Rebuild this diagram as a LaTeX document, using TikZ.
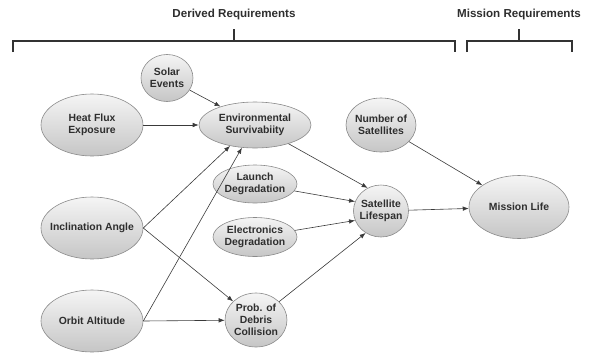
\documentclass[tikz,border=0pt]{standalone}
\usepackage{fontspec}
\setmainfont{Liberation Sans}
\usetikzlibrary{shapes.geometric,arrows.meta}
\definecolor{txt}{HTML}{2E2E2E}
\definecolor{edge}{HTML}{8A8A8A}
\definecolor{lnk}{HTML}{3A3A3A}
\tikzset{
  bub/.style={ellipse, draw=edge, line width=0.6pt, top color=white!92!gray, bottom color=gray!45,
    inner sep=-14pt, align=center, font=\bfseries\fontsize{10.4}{12}\selectfont, text=txt},
  lnkarrow/.style={draw=lnk, line width=0.6pt, -{Latex[length=6pt,width=4.5pt]}},
  brk/.style={draw=black!80, line width=1.1pt},
  hdr/.style={font=\bfseries\fontsize{11.6}{13}\selectfont, text=txt}
}
\begin{document}
\begin{tikzpicture}[x=1pt,y=-1pt]
\useasboundingbox (0,0) rectangle (600,354);
% headers and brackets
\node[hdr] (dreq) at (234,14) {Derived Requirements};
\node[hdr] (mreq) at (519,14) {Mission Requirements};
\coordinate (d1) at (13,52); \coordinate (d2) at (13,41); \coordinate (d3) at (455,41); \coordinate (d4) at (455,52);
\coordinate (dm) at (234,41); \coordinate (dt) at (234,29);
\draw[brk] (d1) -- (d2) -- (d3) -- (d4);
\draw[brk] (dm) -- (dt);
\coordinate (m1) at (467,52); \coordinate (m2) at (467,41); \coordinate (m3) at (572,41); \coordinate (m4) at (572,52);
\coordinate (mm) at (519,41); \coordinate (mt) at (519,29);
\draw[brk] (m1) -- (m2) -- (m3) -- (m4);
\draw[brk] (mm) -- (mt);
% nodes
\node[bub, minimum width=52pt, minimum height=47pt] (solar) at (167,78) {Solar\\Events};
\node[bub, minimum width=102pt, minimum height=62pt] (heat) at (92,125) {Heat Flux\\Exposure};
\node[bub, minimum width=112pt, minimum height=46pt] (env) at (255,125) {Environmental\\Survivabiity};
\node[bub, minimum width=84pt, minimum height=38pt] (launch) at (255,184) {Launch\\Degradation};
\node[bub, minimum width=84pt, minimum height=39pt] (elec) at (255,237) {Electronics\\Degradation};
\node[bub, minimum width=102pt, minimum height=62pt] (incl) at (92,228) {Inclination Angle};
\node[bub, minimum width=102pt, minimum height=62pt] (orbit) at (92,321) {Orbit Altitude};
\node[bub, minimum width=62pt, minimum height=54pt] (debris) at (256,320) {Prob. of\\Debris\\Collision};
\node[bub, minimum width=70pt, minimum height=54pt] (num) at (381,125) {Number of\\Satellites};
\node[bub, minimum width=55pt, minimum height=52pt] (life) at (381,211) {Satellite\\Lifespan};
\node[bub, minimum width=100pt, minimum height=63pt] (mission) at (519,207) {Mission Life};
% connectors
\draw[lnkarrow] (solar) -- (env);
\draw[lnkarrow] (heat) -- (env);
\draw[lnkarrow] (incl.east) -- (env.220);
\draw[lnkarrow] (orbit.east) -- (env.240);
\draw[lnkarrow] (incl.east) -- (debris);
\draw[lnkarrow] (orbit.east) -- (debris);
\draw[lnkarrow] (env) -- (life.120);
\draw[lnkarrow] (launch) -- (life.160);
\draw[lnkarrow] (elec) -- (life.200);
\draw[lnkarrow] (debris) -- (life.235);
\draw[lnkarrow] (num) -- (mission);
\draw[lnkarrow] (life) -- (mission);
\end{tikzpicture}
\end{document}
